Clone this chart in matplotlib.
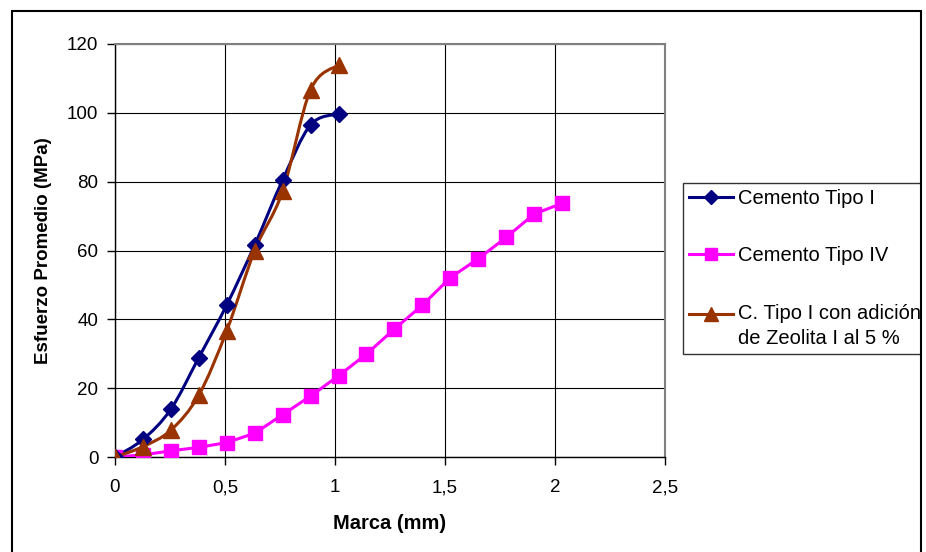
import matplotlib
matplotlib.use('Agg')
import matplotlib.pyplot as plt
from matplotlib.path import Path
from matplotlib.patches import PathPatch, Rectangle
from matplotlib.lines import Line2D
from matplotlib.transforms import Bbox, TransformedBbox

plt.rcParams['font.family'] = ['Liberation Sans', 'DejaVu Sans']

# deformacion medida (mm) y esfuerzo promedio (MPa)
marca_corta = [0, 0.127, 0.254, 0.381, 0.508, 0.635, 0.762, 0.889, 1.016]
marca_larga = [0, 0.127, 0.254, 0.381, 0.508, 0.635, 0.762, 0.889, 1.016,
               1.143, 1.27, 1.397, 1.524, 1.651, 1.778, 1.905, 2.032]

tipo1 = [0, 5.1, 13.9, 28.9, 44.2, 61.6, 80.5, 96.5, 99.7]
tipo4 = [0, 0.6, 1.8, 2.8, 4.2, 6.9, 12.3, 17.7, 23.6, 29.9, 37.2, 44.1,
         52.1, 57.6, 63.8, 70.6, 73.7]
zeolita = [0, 3.0, 7.8, 18.0, 36.7, 60.0, 77.2, 106.7, 113.9]

nombres = ['Cemento Tipo I', 'Cemento Tipo IV',
           'C. Tipo I con adición\nde Zeolita I al 5 %']
colores = ['#000080', '#FF00FF', '#993300']

x_ticks = [0, 0.5, 1, 1.5, 2, 2.5]
y_ticks = [0, 20, 40, 60, 80, 100, 120]


def suavizar(xs, ys):
    # curva suave tipo Excel: bezier con puntos de control de los vecinos
    pts = list(zip(xs, ys))
    verts = [pts[0]]
    codes = [Path.MOVETO]
    n = len(pts)
    for i in range(n - 1):
        p0 = pts[i - 1] if i > 0 else pts[i]
        p1 = pts[i]
        p2 = pts[i + 1]
        p3 = pts[i + 2] if i + 2 < n else pts[i + 1]
        c1 = (p1[0] + (p2[0] - p0[0]) / 6, p1[1] + (p2[1] - p0[1]) / 6)
        c2 = (p2[0] - (p3[0] - p1[0]) / 6, p2[1] - (p3[1] - p1[1]) / 6)
        verts += [c1, c2, p2]
        codes += [Path.CURVE4] * 3
    return Path(verts, codes)


fig = plt.figure(figsize=(9.26, 5.52), dpi=100)
ax = fig.add_axes([115 / 926, 1 - 457 / 552, 550 / 926, 413 / 552])

ax.set_xlim(0, 2.5)
ax.set_ylim(0, 120)
ax.grid(True, color='black', linewidth=0.8)
ax.set_axisbelow(True)

ax.add_patch(PathPatch(suavizar(marca_corta, tipo1), facecolor='none',
                       edgecolor=colores[0], linewidth=2.2, zorder=3))
ax.plot(marca_corta, tipo1, linestyle='none', marker='D', markersize=8,
        color=colores[0], zorder=4)

ax.plot(marca_larga, tipo4, color=colores[1], linewidth=2.2, marker='s',
        markersize=9.5, zorder=3)

ax.add_patch(PathPatch(suavizar(marca_corta, zeolita), facecolor='none',
                       edgecolor=colores[2], linewidth=2.2, zorder=3))
ax.plot(marca_corta, zeolita, linestyle='none', marker='^', markersize=11.5,
        color=colores[2], zorder=4)

ax.set_xticks(x_ticks)
ax.set_xticklabels([('%g' % v).replace('.', ',') for v in x_ticks])
ax.set_yticks(y_ticks)
ax.tick_params(axis='both', labelsize=13.5, length=6, width=1, direction='out')
ax.tick_params(axis='x', pad=10)
ax.tick_params(axis='y', pad=6)

for lado in ['top', 'right']:
    ax.spines[lado].set_color('#808080')
    ax.spines[lado].set_linewidth(1.5)
for lado in ['left', 'bottom']:
    ax.spines[lado].set_color('black')
    ax.spines[lado].set_linewidth(1)

ax.set_xlabel('Marca (mm)', fontsize=14.5, fontweight='bold', labelpad=13)
ax.set_ylabel('Esfuerzo Promedio (MPa)', fontsize=13.5, fontweight='bold',
              labelpad=11)

manijas = [
    Line2D([], [], color=colores[0], linewidth=2.2, marker='D', markersize=7),
    Line2D([], [], color=colores[1], linewidth=2.2, marker='s', markersize=8),
    Line2D([], [], color=colores[2], linewidth=2.2, marker='^', markersize=10),
]
leg = fig.legend(manijas, nombres, loc='upper left',
                 bbox_to_anchor=(682.5 / 926, 1 - 183 / 552),
                 fontsize=14.5, frameon=True, fancybox=False, shadow=False,
                 handlelength=2.2, handletextpad=0.25, borderpad=0.3,
                 labelspacing=1.9, borderaxespad=0, numpoints=1)
leg.get_frame().set_edgecolor('black')
leg.get_frame().set_linewidth(1)

# la etiqueta de dos lineas: mas interlineado y simbolo junto a la primera
leg.get_texts()[2].set_linespacing(1.45)
simbolo = leg.legend_handles[2]
simbolo.set_ydata([y + 9.2 for y in simbolo.get_ydata()])

# la leyenda queda cortada por el borde derecho del grafico
recorte = TransformedBbox(Bbox.from_extents(0, 0, 921 / 926, 1),
                          fig.transFigure)
leg.get_frame().set_clip_box(recorte)
for t in leg.get_texts():
    t.set_clip_box(recorte)

# marco exterior del grafico
fig.patches.append(Rectangle((12 / 926, -0.05), (921 - 12) / 926,
                             1.05 - 11 / 552, transform=fig.transFigure,
                             fill=False, edgecolor='black', linewidth=1.5,
                             zorder=10))

fig.savefig('out.png', dpi=100)
